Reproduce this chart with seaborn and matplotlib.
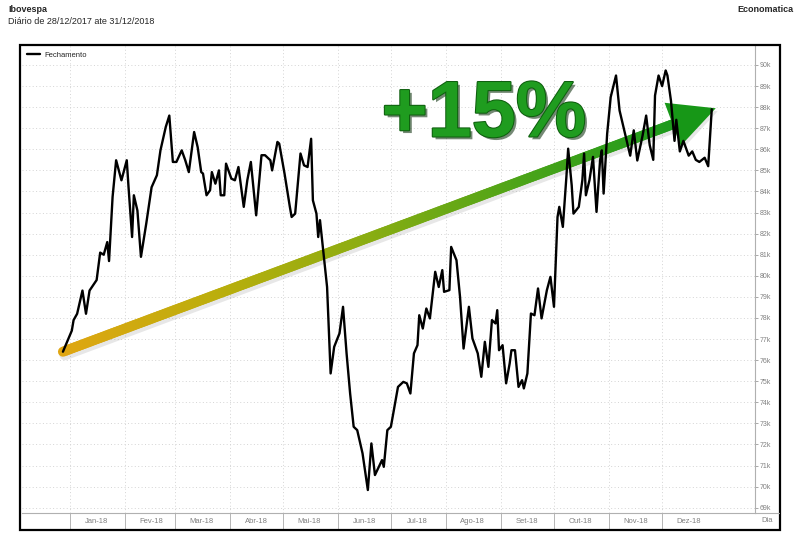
import numpy as np
import pandas as pd
import seaborn as sns
import matplotlib.pyplot as plt
import matplotlib.dates as mdates
import matplotlib.patheffects as pe
from matplotlib.collections import LineCollection
from matplotlib.colors import LinearSegmentedColormap
from matplotlib.patches import Polygon, Rectangle
from matplotlib.lines import Line2D

# Ibovespa - fechamento diario (mil pontos)
datas = [
    '2017-12-28',
    '2018-01-02', '2018-01-03', '2018-01-05', '2018-01-08', '2018-01-10', '2018-01-12', '2018-01-14',
    '2018-01-16', '2018-01-18', '2018-01-20', '2018-01-22', '2018-01-23', '2018-01-25', '2018-01-27',
    '2018-01-30',
    '2018-02-02', '2018-02-03', '2018-02-05', '2018-02-06', '2018-02-08', '2018-02-10', '2018-02-13',
    '2018-02-16', '2018-02-19', '2018-02-21', '2018-02-24', '2018-02-26', '2018-02-28',
    '2018-03-02', '2018-03-05', '2018-03-07', '2018-03-09', '2018-03-12', '2018-03-14', '2018-03-16',
    '2018-03-17', '2018-03-19', '2018-03-21', '2018-03-22', '2018-03-24', '2018-03-26', '2018-03-27',
    '2018-03-29', '2018-03-30',
    '2018-04-02', '2018-04-04', '2018-04-06', '2018-04-07', '2018-04-09', '2018-04-11', '2018-04-13',
    '2018-04-16', '2018-04-19', '2018-04-21', '2018-04-24', '2018-04-25', '2018-04-28', '2018-04-29',
    '2018-05-02', '2018-05-05', '2018-05-06', '2018-05-08', '2018-05-11', '2018-05-13', '2018-05-15',
    '2018-05-17', '2018-05-18', '2018-05-20', '2018-05-21', '2018-05-22', '2018-05-24', '2018-05-26',
    '2018-05-28', '2018-05-30',
    '2018-06-02', '2018-06-04', '2018-06-06', '2018-06-08', '2018-06-10', '2018-06-12', '2018-06-15',
    '2018-06-18', '2018-06-20', '2018-06-22', '2018-06-26', '2018-06-27', '2018-06-29',
    '2018-07-01', '2018-07-03', '2018-07-05', '2018-07-08', '2018-07-10', '2018-07-12', '2018-07-14',
    '2018-07-16', '2018-07-17', '2018-07-19', '2018-07-21', '2018-07-23', '2018-07-26', '2018-07-28',
    '2018-07-30', '2018-07-31',
    '2018-08-03', '2018-08-04', '2018-08-07', '2018-08-09', '2018-08-11', '2018-08-14', '2018-08-16',
    '2018-08-19', '2018-08-21', '2018-08-23', '2018-08-25', '2018-08-27', '2018-08-29', '2018-08-30',
    '2018-08-31',
    '2018-09-02', '2018-09-04', '2018-09-06', '2018-09-07', '2018-09-09', '2018-09-11', '2018-09-13',
    '2018-09-14', '2018-09-16', '2018-09-18', '2018-09-20', '2018-09-22', '2018-09-24', '2018-09-27',
    '2018-09-29',
    '2018-10-01', '2018-10-03', '2018-10-04', '2018-10-06', '2018-10-08', '2018-10-09', '2018-10-11',
    '2018-10-12', '2018-10-15', '2018-10-17', '2018-10-18', '2018-10-19', '2018-10-21', '2018-10-23',
    '2018-10-25', '2018-10-27', '2018-10-28', '2018-10-29', '2018-10-31',
    '2018-11-02', '2018-11-05', '2018-11-07', '2018-11-11', '2018-11-13', '2018-11-15', '2018-11-17',
    '2018-11-20', '2018-11-22', '2018-11-24', '2018-11-26', '2018-11-27', '2018-11-29',
    '2018-12-01', '2018-12-03', '2018-12-04', '2018-12-06', '2018-12-08', '2018-12-09', '2018-12-11',
    '2018-12-13', '2018-12-16', '2018-12-18', '2018-12-20', '2018-12-22', '2018-12-25', '2018-12-27',
    '2018-12-29',
]
fechamento = [
    76.4,
    77.4, 77.9, 78.2, 79.3, 78.2, 79.3, 79.55,
    79.8, 81.1, 81.0, 81.6, 80.7, 83.74, 85.48,
    84.53,
    85.48, 84.2, 81.84, 83.82, 83.1, 80.9, 82.48,
    84.2, 84.77, 85.95, 87.06, 87.6, 85.4,
    85.4, 85.95, 85.48, 84.92, 86.82, 86.1, 84.92,
    84.85, 83.82, 84.06, 84.92, 84.37, 85.0, 83.82,
    83.82, 85.32,
    84.61, 84.53, 85.16, 84.53, 83.27, 84.53, 85.4,
    82.87, 85.72, 85.72, 85.48, 85.0, 86.35, 86.27,
    84.85, 83.27, 82.79, 82.95, 85.8, 85.24, 85.16,
    86.5, 83.58, 82.95, 81.84, 82.64, 81.06, 79.47,
    75.37, 76.63,
    77.27, 78.53, 76.32, 74.42, 72.84, 72.68, 71.58,
    69.84, 72.05, 70.55, 71.26, 70.94, 72.68,
    72.84, 73.79, 74.73, 74.97, 74.9, 74.42, 76.32,
    76.71, 78.13, 77.5, 78.45, 77.98, 80.19, 79.47,
    80.27, 79.24,
    79.32, 81.37, 80.74, 79.0, 76.55, 78.53, 77.03,
    76.32, 75.21, 76.87, 75.68, 77.9, 77.74, 78.37,
    76.47,
    76.71, 74.9, 75.84, 76.47, 76.47, 74.73, 75.05,
    74.66, 75.37, 78.21, 78.13, 79.4, 77.98, 79.32,
    79.95,
    78.53, 82.79, 83.27, 82.32, 84.69, 86.03, 84.29,
    82.95, 83.27, 84.53, 85.8, 83.82, 84.53, 85.64,
    83.03, 85.48, 85.95, 83.9, 86.74,
    88.48, 89.5, 87.84, 86.42, 85.7, 86.9, 85.47,
    86.66, 87.6, 86.2, 85.5, 88.55, 89.5,
    89.0, 89.74, 89.5, 88.3, 86.4, 87.4, 85.9,
    86.4, 85.7, 85.9, 85.5, 85.4, 85.6, 85.2,
    87.9,
]
meses = ['Jan-18', 'Fev-18', 'Mar-18', 'Abr-18', 'Mai-18', 'Jun-18',
         'Jul-18', 'Ago-18', 'Set-18', 'Out-18', 'Nov-18', 'Dez-18']
niveis = list(range(69, 91))

sns.set_style('white')
plt.rcParams['font.family'] = ['Liberation Sans', 'DejaVu Sans']

W, H = 800, 541
fig = plt.figure(figsize=(W / 100, H / 100), dpi=100)
ax = fig.add_axes([22 / W, (H - 513) / H, 733 / W, 467 / H])

df = pd.DataFrame({'data': pd.to_datetime(datas), 'fechamento': fechamento})
sns.lineplot(data=df, x='data', y='fechamento', color='black', lw=1.7,
             label='Fechamento', ax=ax, zorder=4)

jan1 = pd.Timestamp('2018-01-01')
ax.set_xlim(jan1 - pd.Timedelta(days=27.1), jan1 + pd.Timedelta(days=386.4))
ax.set_ylim(68.75, 90.9)
ax.set_xlabel('')
ax.set_ylabel('')

# eixo y a direita
ax.set_yticks(niveis)
ax.set_yticklabels([f'{v}k' for v in niveis])
ax.yaxis.tick_right()
ax.tick_params(axis='y', which='major', direction='out', length=2.5, width=0.6,
               color='#999999', labelsize=5, labelcolor='#808080', pad=1,
               right=True, left=False)

# eixo x: separadores no inicio do mes, rotulos no meio
inicio_mes = pd.date_range('2018-01-01', '2018-12-01', freq='MS')
meio_mes = inicio_mes + pd.Timedelta(days=15)
ax.set_xticks(inicio_mes)
ax.set_xticklabels([''] * len(inicio_mes))
ax.set_xticks(meio_mes, minor=True)
ax.set_xticklabels(meses, minor=True)
ax.tick_params(axis='x', which='major', direction='out', length=12.5, width=0.6,
               color='#aaaaaa', bottom=True)
ax.tick_params(axis='x', which='minor', length=0, labelsize=5.5,
               labelcolor='#808080', pad=3.6, bottom=True)

ax.grid(True, which='major', color='#d4d4d4', linestyle=(0, (1, 2.5)), linewidth=0.7)
for s in ['top', 'left']:
    ax.spines[s].set_visible(False)
for s in ['right', 'bottom']:
    ax.spines[s].set_color('#b0b0b0')
    ax.spines[s].set_linewidth(0.8)

ax.legend(loc='upper left', frameon=False, fontsize=5.5, handlelength=1.6,
          borderaxespad=0.3, handletextpad=0.6)

# seta com gradiente do primeiro ao ultimo fechamento
x0 = mdates.date2num(df['data'].iloc[0])
x1 = mdates.date2num(df['data'].iloc[-1])
p0 = ax.transData.transform((x0, fechamento[0]))
p1 = ax.transData.transform((x1, fechamento[-1])) + np.array([4.0, 1.0])
u = (p1 - p0) / np.linalg.norm(p1 - p0)
n = np.array([-u[1], u[0]])
base = p1 - 46 * u
inv = ax.transData.inverted()

t = np.linspace(0, 1, 200)
pts = p0 + np.outer(t, (base + 4 * u) - p0)
cmap = LinearSegmentedColormap.from_list(
    'seta', ['#e0a612', '#bcae0c', '#8aad12', '#4ca418', '#1d9a1d'])

sombra = pts + np.array([2, -3])
ax.plot(*inv.transform(sombra).T, color='#888888', alpha=0.2, lw=8,
        solid_capstyle='round', zorder=1)
pd_pts = inv.transform(pts)
segs = np.stack([pd_pts[:-1], pd_pts[1:]], axis=1)
lc = LineCollection(segs, colors=cmap(t[:-1]), linewidths=7.2, capstyle='round', zorder=2)
ax.add_collection(lc)

cabeca = np.array([p1, base + 23 * n, base - 23 * n])
ax.add_patch(Polygon(inv.transform(cabeca + np.array([2, -3])), closed=True,
                     fc='#888888', alpha=0.2, ec='none', zorder=1))
ax.add_patch(Polygon(inv.transform(cabeca), closed=True, fc='#179717', ec='none', zorder=2))

fig.text(484 / W, 1 - 116 / H, '+15%', ha='center', va='center', fontsize=57,
         fontweight='bold', color='#1f9c1f', zorder=6,
         path_effects=[pe.SimplePatchShadow(offset=(2, -2), shadow_rgbFace='#1a3a1a', alpha=0.6),
                       pe.Stroke(linewidth=1.5, foreground='#0f5f0f'), pe.Normal()])

# moldura e cabecalho
fig.add_artist(Rectangle((20 / W, (H - 530) / H), 760 / W, 485 / H,
                         transform=fig.transFigure, fill=False, lw=1.6, ec='black'))
fig.add_artist(Line2D([755 / W, 779 / W], [(H - 513) / H] * 2, color='#b0b0b0', lw=0.8))
fig.text(767 / W, (H - 520) / H, 'Dia', fontsize=5.5, color='#808080', ha='center', va='center')

fig.text(8 / W, 1 - 10 / H, 'Ibovespa', fontsize=6.5, fontweight='bold', va='center')
fig.text(8 / W, 1 - 21 / H, 'Diário de 28/12/2017 ate 31/12/2018', fontsize=6.5, va='center')
fig.text(793 / W, 1 - 9 / H, 'Economatica', fontsize=6.5, fontweight='bold', ha='right', va='center')

fig.savefig('out.png', dpi=100)
